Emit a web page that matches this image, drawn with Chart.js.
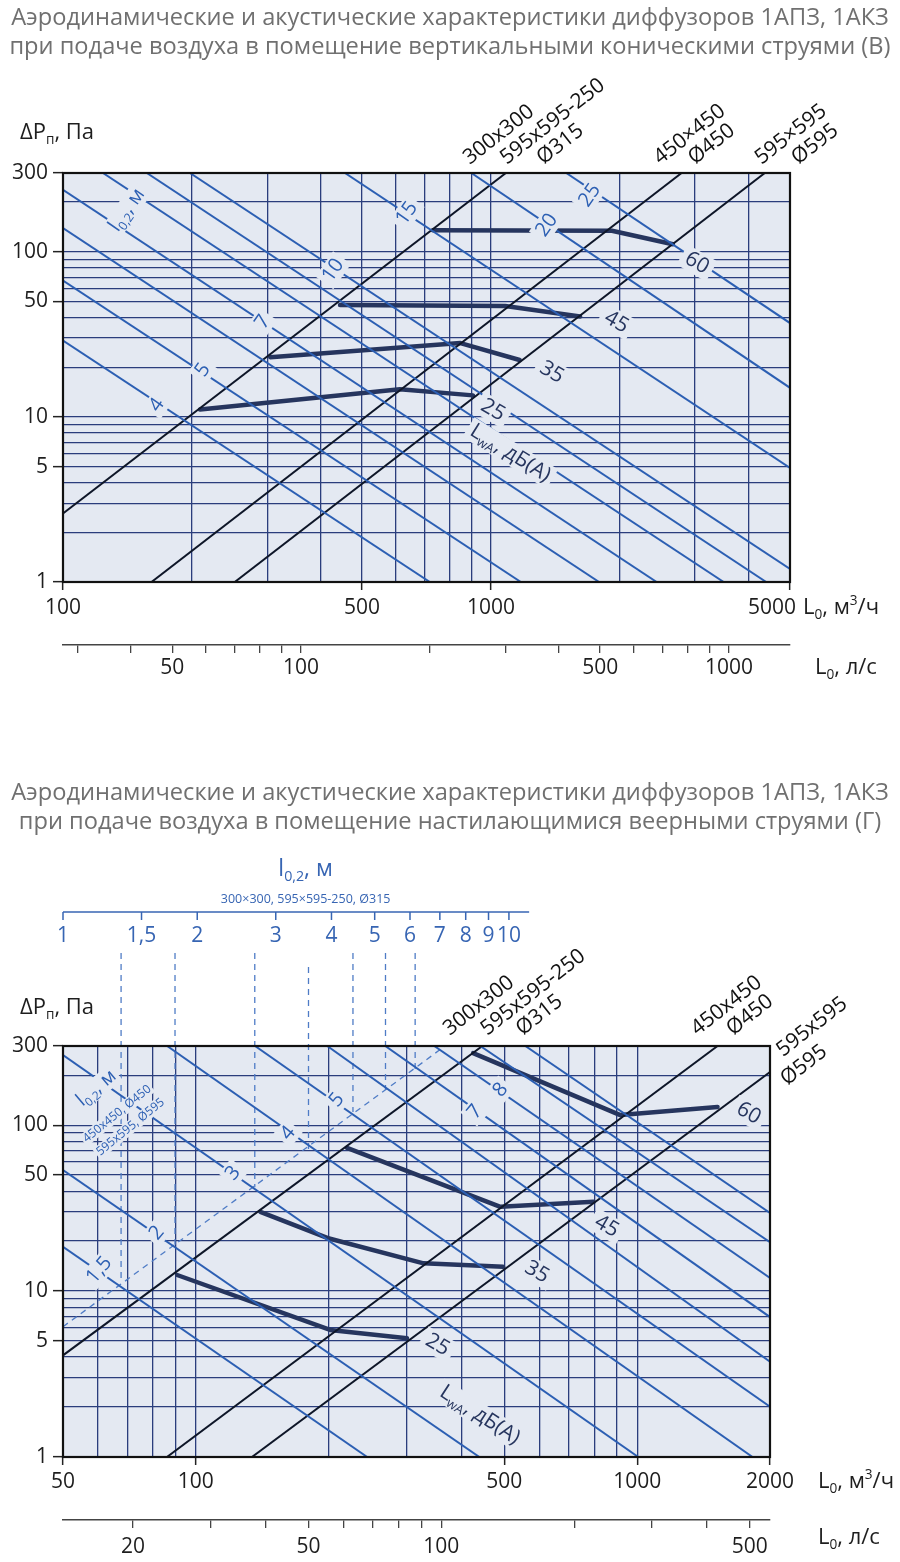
<!DOCTYPE html>
<html>
<head>
<meta charset="utf-8">
<script src="https://cdn.jsdelivr.net/npm/chart.js"></script>
<style>
html,body{margin:0;padding:0;background:#ffffff;}
#wrap{position:relative;width:900px;height:1562px;overflow:hidden;}
canvas{position:absolute;left:0;}
</style>
</head>
<body>
<div id="wrap">
<canvas id="cB" width="900" height="700" style="top:0;width:900px;height:700px"></canvas>
<canvas id="cG" width="900" height="862" style="top:700px;width:900px;height:862px"></canvas>
</div>
<script>
// ================= DATA =================
// shared pressure axis (Па)
const dpGrid = [1,2,3,4,5,6,7,8,9,10,20,30,40,50,60,70,80,90,100,200,300];
const dpLabeled = [1,5,10,50,100,300];

// ---------- Chart (В): vertical conical jets ----------
const titleB = ["Аэродинамические и акустические характеристики диффузоров 1АПЗ, 1АКЗ",
                "при подаче воздуха в помещение вертикальными коническими струями (В)"];
const flowGridB = [100,200,300,400,500,600,700,800,900,1000,2000,3000,4000,5000];
const flowLabeledB = [100,500,1000,5000];
const lsGridB = [30,40,50,60,70,80,90,100,200,300,400,500,600,700,800,900,1000];
const lsLabeledB = [50,100,500,1000];

const sizeB_300 = [[100,2.6],[1084,300]];
const sizeB_450 = [[161,1],[2790,300]];
const sizeB_595 = [[252,1],[4366,300]];

const throwValuesB = [4,5,6,7,8,9,10,15,20,25];
const throwFromB = [[100,29],[100,67],[100,139],[100,237],[124,300],[157,300],[198,300],[456,300],[900,300],[1500,300]];
const throwToB   = [[720,1],[1175,1],[1790,1],[2440,1],[3500,1],[4400,1],[5000,1.2],[5000,4.9],[5000,15],[5000,37]];

const noiseB_25 = [[209,11.1],[613,14.7],[908,13.5]];
const noiseB_35 = [[305,23.0],[849,28.0],[1167,22.1]];
const noiseB_45 = [[444,47.6],[1080,46.9],[1616,40.6]];
const noiseB_60 = [[732,135],[1918,134],[2663,111]];

const throwTagB = ['4','5','7','10','15','20','25'];
const throwTagPosB = [[165.8,11.8],[212.2,19.2],[293,37.5],[428,77.3],[636,171],[1351,145],[1703,220]];
const noiseTagB = ['25','35','45','60'];
const noiseTagPosB = [[1011,11.0],[1388,18.6],[1965,37.5],[3030,85.5]];
const sizeTagB = ['300x300','595x595-250','Ø315','450×450','Ø450','595×595','Ø595'];
const sizeTagFlowB = [892,1089,1326,2487,2994,4287,5223];
const sizeTagDpB = [335,335,335,335,335,335,335];

// ---------- Chart (Г): spreading fan jets ----------
const titleG = ["Аэродинамические и акустические характеристики диффузоров 1АПЗ, 1АКЗ",
                "при подаче воздуха в помещение настилающимися веерными струями (Г)"];
const flowGridG = [50,60,70,80,90,100,200,300,400,500,600,700,800,900,1000,2000];
const flowLabeledG = [50,100,500,1000,2000];
const lsGridG = [20,30,40,50,60,70,80,90,100,200,300,400,500];
const lsLabeledG = [20,50,100,500];

const sizeG_300 = [[50,4.1],[446,300]];
const sizeG_450 = [[86,1],[1521,300]];
const sizeG_595 = [[134,1],[2000,209]];
const refLineG = [[50,6.1],[367,300]];
const dropFlowG = [67.7,89.7,136,180,227,269,314];
const dropTopG = [1089,1089,1089,898,1089,1089,1089];
const dropBottomG = [11.7,19.0,42.3,70.6,120,163,206];

const throwValuesG = [1.5,2,3,4,5,6,7,8,9,10];
const throwFromG = [[50,18.5],[50,53.6],[50,264.7],[86.1,300],[136.2,300],[198.5,300],[268.7,300],[347,300],[441,300],[558,300]];
const throwToG   = [[244.5,1],[439,1],[1006,1],[1826,1],[2000,2.01],[2000,3.75],[2000,6.97],[2000,12.0],[2000,19.7],[2000,29.6]];

const noiseG_25 = [[90.7,12.5],[201.5,5.83],[301,5.2]];
const noiseG_35 = [[140,30.0],[198.5,20.9],[328,14.7],[497,14.0]];
const noiseG_45 = [[220,72.9],[490,32.2],[796,34.5]];
const noiseG_60 = [[425,272],[916,115],[1521,128.6]];

const throwTagG = ['1,5','2','3','4','5','7','8'];
const throwTagPosG = [[60.4,13.4],[81.6,22.4],[121.5,51.4],[161.8,89.5],[208.6,142],[429,120],[490,163]];
const noiseTagG = ['25','35','45','60'];
const noiseTagPosG = [[353,4.74],[593,13.0],[853,24.6],[1789,118]];
const sizeTagG = ['300x300','595x595-250','Ø315','450x450','Ø450','595x595','Ø595'];
const sizeTagFlowG = [376,457.6,550,1370,1649,2140,2185];
const sizeTagDpG = [345,345,345,345,345,257,172];

// upper throw scale of chart Г (l0,2 for 300x300, 595x595-250, Ø315)
const throwScaleTicks = [1,1.5,2,3,4,5,6,7,8,9,10];
const throwScaleLabels = ['1','1,5','2','3','4','5','6','7','8','9','10'];
const throwScaleMax = 38.5;
const throwScaleEnd = 11.1;
const throwScaleTitleAt = 3.5;

// ================= STYLE =================
const FONT = "'Open Sans', 'Noto Sans', 'DejaVu Sans', sans-serif";
const BG = '#e4e9f2';
const GRID = '#2a3d7c';
const THROW = '#2c5fb3';
const BLACK = '#0e1628';
const NOISE = '#26355e';
const TXT = '#1e1e1e';
const TITLE = '#707070';
const AXBLUE = '#3765b3';
const TICKFONT = 21;

Chart.defaults.font.family = FONT;

// ================= HELPERS =================
function pts(a){ return a.map(p => ({x:p[0], y:p[1]})); }
function lineDs(a, color, width, extra){
  return Object.assign({data: pts(a), borderColor: color, borderWidth: width, pointRadius: 0,
    pointHoverRadius: 0, fill: false, tension: 0, showLine: true}, extra || {});
}
function richWidth(ctx, parts, size){
  let w = 0;
  for (const [t, m] of parts){ ctx.font = (m ? size*0.62 : size) + 'px ' + FONT; w += ctx.measureText(t).width; }
  return w;
}
function drawRich(ctx, parts, x, y, size, color){
  ctx.fillStyle = color; ctx.textBaseline = 'middle'; ctx.textAlign = 'left';
  let cx = x;
  for (const [t, m] of parts){
    const s = m ? size*0.62 : size;
    ctx.font = s + 'px ' + FONT;
    const dy = m === 1 ? size*0.33 : (m === 2 ? -size*0.33 : 0);
    ctx.fillText(t, cx, y + dy);
    cx += ctx.measureText(t).width;
  }
}
function tags(texts, pos, rot, size, color, pad){
  return texts.map((t, i) => ({parts: [[t,0]], L: pos[i][0], P: pos[i][1], rot, size, color, pad}));
}
function labeledTick(list){
  return c => (c.tick && list.includes(c.tick.value)) ? '#222' : 'rgba(0,0,0,0)';
}
function flowAxis(min, max, grid, labeled, pad, shiftLast){
  return {type:'logarithmic', position:'bottom', weight:0, min, max,
    afterBuildTicks: s => { s.ticks = grid.map(v => ({value:v})); },
    afterFit: s => { s.height = 63; },
    ticks: {autoSkip:false, maxRotation:0, minRotation:0, padding:pad, color:TXT, font:{size:TICKFONT, family:FONT},
      callback: v => labeled.includes(v) ? (shiftLast && v === max ? String(v) + '\u2007\u2007\u2007' : String(v)) : ''},
    grid: {color:GRID, lineWidth:1.3, tickLength:8, tickWidth:1.5, tickColor: labeledTick(labeled)},
    border: {display:false}};
}
function lsAxis(min, max, grid, labeled, h, pad){
  return {type:'logarithmic', position:'bottom', weight:1, min, max,
    afterBuildTicks: s => { s.ticks = grid.map(v => ({value:v})); },
    afterFit: s => { s.height = h; },
    ticks: {autoSkip:false, maxRotation:0, minRotation:0, padding:pad, color:TXT, font:{size:TICKFONT, family:FONT},
      callback: v => labeled.includes(v) ? String(v) : ''},
    grid: {drawOnChartArea:false, drawTicks:true, tickLength:8, color:'#444', lineWidth:1.3},
    border: {display:true, color:'#444', width:1.5}};
}
function dpAxis(){
  return {type:'logarithmic', position:'left', min:1, max:300,
    afterBuildTicks: s => { s.ticks = dpGrid.map(v => ({value:v})); },
    afterFit: s => { s.width = 63; },
    ticks: {autoSkip:false, padding:5, color:TXT, font:{size:TICKFONT, family:FONT},
      callback: v => dpLabeled.includes(v) ? String(v) : ''},
    grid: {color:GRID, lineWidth:1.3, tickLength:10, tickWidth:1.5, tickColor: labeledTick(dpLabeled)},
    border: {display:false}};
}

function extrasPlugin(cfg){
  return {
    id: 'extras' + cfg.name,
    beforeDraw(chart){
      const {ctx, chartArea:a} = chart;
      ctx.save(); ctx.fillStyle = BG; ctx.fillRect(a.left, a.top, a.right-a.left, a.bottom-a.top); ctx.restore();
    },
    afterDatasetsDraw(chart){
      const {ctx, chartArea:a, scales} = chart;
      const X = v => scales.x.getPixelForValue(v);
      const Y = v => scales.y.getPixelForValue(v);
      // labels inside plot, with background halo
      for (const l of cfg.labels){
        ctx.save();
        ctx.translate(X(l.L), Y(l.P));
        ctx.rotate(l.rot*Math.PI/180);
        const w = richWidth(ctx, l.parts, l.size);
        if (l.pad >= 0){
          ctx.fillStyle = BG;
          ctx.fillRect(-w/2 - l.pad, -l.size*0.55, w + 2*l.pad, l.size*1.1);
        }
        drawRich(ctx, l.parts, -w/2, 0, l.size, l.color);
        ctx.restore();
      }
      // plot frame
      ctx.save(); ctx.strokeStyle = '#111'; ctx.lineWidth = 2.2;
      ctx.strokeRect(a.left, a.top, a.right-a.left, a.bottom-a.top); ctx.restore();
      // size labels (rotated along the black lines)
      cfg.sizeTags.forEach((t, i) => {
        ctx.save();
        ctx.translate(X(cfg.sizeFlow[i]), Y(cfg.sizeDp[i]));
        ctx.rotate(-38*Math.PI/180);
        ctx.font = '21px ' + FONT; ctx.fillStyle = '#111';
        ctx.textAlign = 'left'; ctx.textBaseline = 'alphabetic';
        ctx.fillText(t, 0, 0);
        ctx.restore();
      });
      // title
      ctx.save();
      ctx.font = '20px ' + FONT;
      const w1 = ctx.measureText(cfg.title[0]).width;
      const ts = 20*878/w1;
      ctx.font = ts + 'px ' + FONT; ctx.fillStyle = TITLE; ctx.textAlign = 'center'; ctx.textBaseline = 'middle';
      ctx.fillText(cfg.title[0], 450, cfg.titleY[0]);
      ctx.fillText(cfg.title[1], 450, cfg.titleY[1]);
      ctx.restore();
      // axis titles
      ctx.save();
      drawRich(ctx, [['ΔP',0],['п',1],[', Па',0]], 20, cfg.dpTitleY, 22, TXT);
      drawRich(ctx, [['L',0],['0',1],[', м',0],['3',2],['/ч',0]], cfg.flowTitle[0], cfg.flowTitle[1], 22, TXT);
      drawRich(ctx, [['L',0],['0',1],[', л/с',0]], cfg.lsTitle[0], cfg.lsTitle[1], 22, TXT);
      ctx.restore();
      // optional upper throw scale
      if (cfg.throwAxis){
        const s = scales.xT, t = cfg.throwAxis;
        ctx.save();
        ctx.strokeStyle = AXBLUE; ctx.lineWidth = 1.5;
        ctx.beginPath(); ctx.moveTo(s.getPixelForValue(1), t.y); ctx.lineTo(s.getPixelForValue(throwScaleEnd), t.y); ctx.stroke();
        ctx.font = '21px ' + FONT; ctx.fillStyle = AXBLUE; ctx.textAlign = 'center'; ctx.textBaseline = 'middle';
        throwScaleTicks.forEach((v, i) => {
          const px = s.getPixelForValue(v);
          ctx.beginPath(); ctx.moveTo(px, t.y); ctx.lineTo(px, t.y + 8); ctx.stroke();
          ctx.fillText(throwScaleLabels[i], px, t.y + 24);
        });
        const cx = s.getPixelForValue(throwScaleTitleAt);
        const parts = [['l',0],['0,2',1],[', м',0]];
        const w = richWidth(ctx, parts, 23);
        drawRich(ctx, parts, cx - w/2, t.y - 43, 23, AXBLUE);
        ctx.font = '12.5px ' + FONT; ctx.fillStyle = AXBLUE; ctx.textAlign = 'center'; ctx.textBaseline = 'middle';
        ctx.fillText('300×300, 595×595-250, Ø315', cx, t.y - 13);
        ctx.restore();
      }
    }
  };
}

// ================= CHART В =================
(function(){
  const ds = [];
  throwFromB.forEach((p, i) => ds.push(lineDs([p, throwToB[i]], THROW, 2)));
  [sizeB_300, sizeB_450, sizeB_595].forEach(s => ds.push(lineDs(s, BLACK, 2)));
  [noiseB_25, noiseB_35, noiseB_45, noiseB_60].forEach(n => ds.push(lineDs(n, NOISE, 4.5, {borderCapStyle:'round', borderJoinStyle:'round'})));

  const labels = []
    .concat(tags(throwTagB, throwTagPosB, -55, 20, THROW, 4))
    .concat(tags(noiseTagB, noiseTagPosB, 30, 21, NOISE, 5))
    .concat([{parts:[['l',0],['0,2',1],[', м',0]], L:141, P:179, rot:-55, size:20, color:THROW, pad:4},
             {parts:[['L',0],['wA',1],[', дБ(А)',0]], L:1110, P:6.03, rot:32, size:21, color:NOISE, pad:4}]);

  new Chart(document.getElementById('cB'), {
    type: 'line',
    data: {datasets: ds},
    options: {
      responsive: false, animation: false, events: [],
      layout: {padding: {top:173, left:0, right:110, bottom:5}},
      plugins: {legend:{display:false}, tooltip:{enabled:false}, title:{display:false}},
      scales: {
        x: flowAxis(100, 5000, flowGridB, flowLabeledB, 5, true),
        x2: lsAxis(100/3.6, 5000/3.6, lsGridB, lsLabeledB, 50, 2),
        y: dpAxis()
      }
    },
    plugins: [extrasPlugin({name:'B', labels, title:titleB, titleY:[18,47], dpTitleY:133,
      flowTitle:[803,608], lsTitle:[815,668],
      sizeTags:sizeTagB, sizeFlow:sizeTagFlowB, sizeDp:sizeTagDpB})]
  });
})();

// ================= CHART Г =================
(function(){
  const ds = [];
  throwFromG.forEach((p, i) => ds.push(lineDs([p, throwToG[i]], THROW, 2)));
  ds.push(lineDs(refLineG, '#4f7cc6', 1.3, {borderDash:[6,5]}));
  dropFlowG.forEach((f, i) => ds.push(lineDs([[f, dropTopG[i]], [f, dropBottomG[i]]], '#4f7cc6', 1.3, {borderDash:[6,5], clip:false})));
  [sizeG_300, sizeG_450, sizeG_595].forEach(s => ds.push(lineDs(s, BLACK, 2)));
  [noiseG_25, noiseG_35, noiseG_45, noiseG_60].forEach(n => ds.push(lineDs(n, NOISE, 4.5, {borderCapStyle:'round', borderJoinStyle:'round'})));

  const labels = []
    .concat(tags(throwTagG, throwTagPosG, -50, 20, THROW, 4))
    .concat(tags(noiseTagG, noiseTagPosG, 30, 21, NOISE, 5))
    .concat([{parts:[['l',0],['0,2',1],[', м',0]], L:59.5, P:167, rot:-40, size:19, color:THROW, pad:3},
             {parts:[['450x450, Ø450',0]], L:66.3, P:117, rot:-39, size:12, color:THROW, pad:2},
             {parts:[['595x595, Ø595',0]], L:71.1, P:97.5, rot:-39, size:12, color:THROW, pad:2},
             {parts:[['L',0],['wA',1],[', дБ(А)',0]], L:440, P:1.79, rot:33, size:21, color:NOISE, pad:4}]);

  new Chart(document.getElementById('cG'), {
    type: 'line',
    data: {datasets: ds},
    options: {
      responsive: false, animation: false, events: [],
      layout: {padding: {top:346, left:0, right:130, bottom:2}},
      plugins: {legend:{display:false}, tooltip:{enabled:false}, title:{display:false}},
      scales: {
        x: flowAxis(50, 2000, flowGridG, flowLabeledG, 4, false),
        x2: lsAxis(50/3.6, 2000/3.6, lsGridG, lsLabeledG, 40, 6),
        y: dpAxis(),
        xT: {type:'logarithmic', axis:'x', position:'top', display:false, min:1, max:throwScaleMax}
      }
    },
    plugins: [extrasPlugin({name:'G', labels, title:titleG, titleY:[93,122], dpTitleY:308,
      flowTitle:[818,782], lsTitle:[818,838],
      sizeTags:sizeTagG, sizeFlow:sizeTagFlowG, sizeDp:sizeTagDpG,
      throwAxis:{y:212}})]
  });
})();
</script>
</body>
</html>
